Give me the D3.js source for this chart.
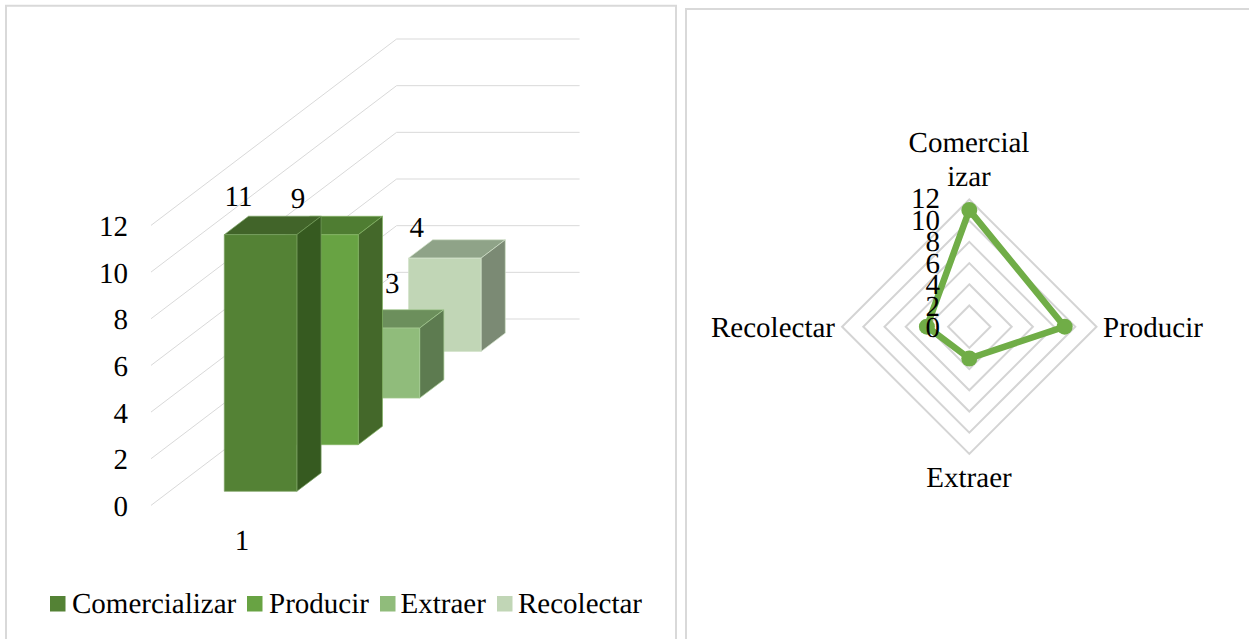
<!DOCTYPE html>
<html>
<head>
<meta charset="utf-8">
<script src="https://cdn.jsdelivr.net/npm/d3@7"></script>
<style>
html,body{margin:0;padding:0;background:#fff;overflow:hidden}
svg{display:block}
text{font-family:"Liberation Serif","Times New Roman",serif;font-size:29px;fill:#000;text-rendering:geometricPrecision}
</style>
</head>
<body>
<svg id="c" width="1249" height="639"></svg>
<script>
const seriesNames = ["Comercializar","Producir","Extraer","Recolectar"];
const values = [11,9,3,4];
const category = ["1"];
const axisTicks = [0,2,4,6,8,10,12];
const frontColors = ["#548235","#68a343","#90bc7b","#c1d6b6"];
const topColors = ["#416429","#4f7d32","#6c8f5c","#8fa388"];
const sideColors = ["#365a20","#44682a","#5d7b50","#7b8a74"];
const edgeColors = ["#78a060","#84b564","#a6cb94","#d2e2ca"];
const labelNudges = [[-22,-29],[-24,-27],[9,-35],[-28,-21]];
const radarAxes = [["Comercial","izar"],["Producir"],["Extraer"],["Recolectar"]];

const svg = d3.select("#c");

// panels
const grid = "#d9d9d9";
svg.append("path").attr("d","M6,639V5.8H676V639").attr("fill","none").attr("stroke",grid).attr("stroke-width",2);
svg.append("path").attr("d","M686,639V9H1249").attr("fill","none").attr("stroke",grid).attr("stroke-width",2);

// 3D column chart
const g = svg.append("g");
const x = d3.scaleBand(category,[0,182]).padding(0.43);
const z = d3.scaleBand(seriesNames,[0,4]).paddingInner(0.605).paddingOuter(0.3025);
const y = d3.scaleLinear([0,12],[0,280]);
const project = (a,v,d) => [151 + a + 61.4*d, 505.4 - y(v) - 46.6*d];
const poly = pts => "M" + pts.map(p=>p.join(",")).join("L") + "Z";

axisTicks.forEach(t=>{
  const a = project(0,t,0), b = project(0,t,4), c = project(183,t,4);
  g.append("path").attr("d",`M${a}L${b}L${c}`).attr("fill","none").attr("stroke",grid).attr("stroke-width",1);
  g.append("text").attr("x",128).attr("y",a[1]+10.5).attr("text-anchor","end").text(t);
});

const x0 = x(category[0]), x1 = x0 + x.bandwidth();
const order = seriesNames.map((s,i)=>i).reverse();
order.forEach(i=>{
  const s = seriesNames[i], v = values[i];
  const d0 = z(s), d1 = d0 + z.bandwidth();
  const bar = g.append("g").attr("stroke",edgeColors[i]).attr("stroke-width",0.7).attr("stroke-linejoin","round");
  bar.append("path").attr("fill",topColors[i])
    .attr("d",poly([project(x0,v,d0),project(x1,v,d0),project(x1,v,d1),project(x0,v,d1)]));
  bar.append("path").attr("fill",sideColors[i])
    .attr("d",poly([project(x1,0,d0),project(x1,v,d0),project(x1,v,d1),project(x1,0,d1)]));
  bar.append("path").attr("fill",frontColors[i])
    .attr("d",poly([project(x0,0,d0),project(x1,0,d0),project(x1,v,d0),project(x0,v,d0)]));
});
values.forEach((v,i)=>{
  const d0 = z(seriesNames[i]);
  const p = project((x0+x1)/2,v,d0);
  g.append("text").attr("x",p[0]+labelNudges[i][0]).attr("y",p[1]+labelNudges[i][1])
    .attr("text-anchor","middle").text(v);
});
g.append("text").attr("x",242).attr("y",550).attr("text-anchor","middle").text(category[0]);

// legend
const legendSwatchX = [50,247,380,497];
const legendTextX = [72,269,400.5,518];
seriesNames.forEach((s,i)=>{
  svg.append("rect").attr("x",legendSwatchX[i]).attr("y",596).attr("width",15.5).attr("height",15.5).attr("fill",frontColors[i]);
  svg.append("text").attr("x",legendTextX[i]).attr("y",613).text(s);
});

// radar chart
const cx = 969.3, cy = 326.7;
const r = d3.scaleLinear([0,12],[0,127.2]);
const radarTickY = d3.scaleLinear([0,12],[337,208]);
const angle = d3.scalePoint(d3.range(4),[0,Math.PI*1.5]);
const radial = (i,v) => [cx + r(v)*Math.sin(angle(i)), cy - r(v)*Math.cos(angle(i))];
const rg = svg.append("g");
axisTicks.filter(t=>t>0).forEach(t=>{
  rg.append("path").attr("d",poly(d3.range(4).map(i=>radial(i,t))))
    .attr("fill","none").attr("stroke","#d4d4d4").attr("stroke-width",2);
});
rg.append("path").attr("d",poly(values.map((v,i)=>radial(i,v))))
  .attr("fill","none").attr("stroke","#70ad47").attr("stroke-width",6.5).attr("stroke-linejoin","round");
values.forEach((v,i)=>{
  const p = radial(i,v);
  rg.append("circle").attr("cx",p[0]).attr("cy",p[1]).attr("r",8).attr("fill","#70ad47");
});
axisTicks.forEach(t=>{
  rg.append("text").attr("x",940).attr("y",radarTickY(t)).attr("text-anchor","end").text(t);
});
const t0 = rg.append("text").attr("text-anchor","middle");
t0.selectAll("tspan").data(radarAxes[0]).join("tspan").attr("x",969).attr("y",(d,i)=>152+i*34).text(d=>d);
rg.append("text").attr("x",1103).attr("y",337).text(radarAxes[1][0]);
rg.append("text").attr("x",969).attr("y",487).attr("text-anchor","middle").text(radarAxes[2][0]);
rg.append("text").attr("x",835).attr("y",337).attr("text-anchor","end").text(radarAxes[3][0]);
</script>
</body>
</html>
